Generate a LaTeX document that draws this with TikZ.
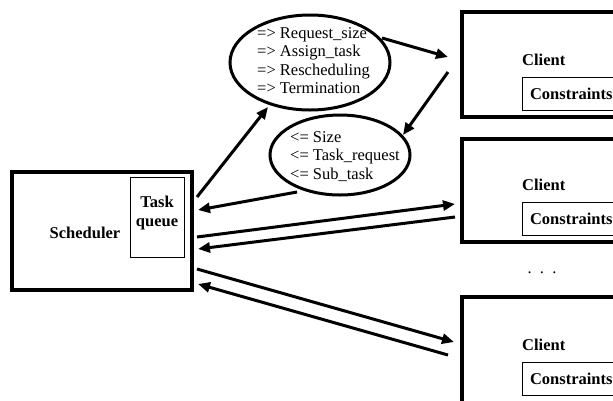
\documentclass[tikz,border=0pt]{standalone}
\usepackage{fontspec}
\setmainfont{Liberation Serif}
\usetikzlibrary{shapes.geometric,arrows.meta}
\begin{document}
\begin{tikzpicture}[x=1pt,y=-1pt,
  txt/.style={font=\fontsize{16.5pt}{18.3pt}\selectfont, inner sep=0pt, align=left},
  btxt/.style={txt, font=\fontsize{16.5pt}{19.5pt}\selectfont\bfseries},
  bigbox/.style={draw, line width=4pt, rectangle, outer sep=0pt, inner sep=0pt},
  thinbox/.style={draw, line width=0.8pt, rectangle, outer sep=0pt, inner sep=0pt},
  ell/.style={draw, ellipse, line width=3pt, inner sep=0pt, outer sep=0pt},
  conbox/.style={thinbox, anchor=west, minimum height=33pt, text width=110pt, inner xsep=8pt,
     font=\fontsize{16.5pt}{18.3pt}\selectfont\bfseries, align=left},
  arr/.style={line width=3pt, -{Triangle[length=12pt,width=10pt]}}]
\clip (0,0) rectangle (613,400);
\fill[white] (0,0) rectangle (613,400);
% scheduler
\node[bigbox, minimum width=180pt, minimum height=118pt] (sched) at (102,231) {};
\node[btxt] (schedt) at (85,233) {Scheduler};
\node[thinbox, minimum width=54pt, minimum height=80pt] (tq) at (157,217) {};
\node[btxt, align=center] (tqt) at (157,213) {Task\\queue};
% ellipses
\node[ell, minimum width=160pt, minimum height=95pt] (e1) at (310,62.5) {};
\node[txt, anchor=west] (e1t) at (257,60.5) {=> Request\_size\\=> Assign\_task\\=> Rescheduling\\=> Termination};
\node[ell, minimum width=140pt, minimum height=80pt] (e2) at (340,155) {};
\node[txt, anchor=west] (e2t) at (290,156.5) {<= Size\\<= Task\_request\\<= Sub\_task};
% clients
\node[bigbox, minimum width=178pt, minimum height=105.5pt, anchor=north west] (c1) at (462,11.5) {};
\node[btxt, anchor=west] (c1t) at (522,60) {Client};
\node[conbox] (k1) at (522,93.5) {Constraints};
\node[bigbox, minimum width=178pt, minimum height=103pt, anchor=north west] (c2) at (462,139) {};
\node[btxt, anchor=west] (c2t) at (522,185) {Client};
\node[conbox] (k2) at (522,219) {Constraints};
\node[bigbox, minimum width=178pt, minimum height=110pt, anchor=north west] (c3) at (462,297) {};
\node[btxt, anchor=west] (c3t) at (522,345) {Client};
\node[conbox] (k3) at (522,378.5) {Constraints};
\node[txt] (dots) at (542,273) {.\ \ .\ \ .};
% arrows
\draw[arr] ([shift={(5,25)}]sched.north east) -- ([shift={(-42,44.5)}]e1.center);
\draw[arr] ([shift={(72,-24.5)}]e1.center) -- ([shift={(-14,45.5)}]c1.north west);
\draw[arr] ([shift={(-14,60.5)}]c1.north west) -- ([shift={(63,-20)}]e2.center);
\draw[arr] ([shift={(-43,37)}]e2.center) -- ([shift={(6,38)}]sched.north east);
\draw[arr] ([shift={(5,65)}]sched.north east) -- ([shift={(-7,65)}]c2.north west);
\draw[arr] ([shift={(-7,78)}]c2.north west) -- ([shift={(6,77)}]sched.north east);
\draw[arr] ([shift={(5,97)}]sched.north east) -- ([shift={(-8,45)}]c3.north west);
\draw[arr] ([shift={(-14,58)}]c3.north west) -- ([shift={(6,112)}]sched.north east);
\end{tikzpicture}
\end{document}
